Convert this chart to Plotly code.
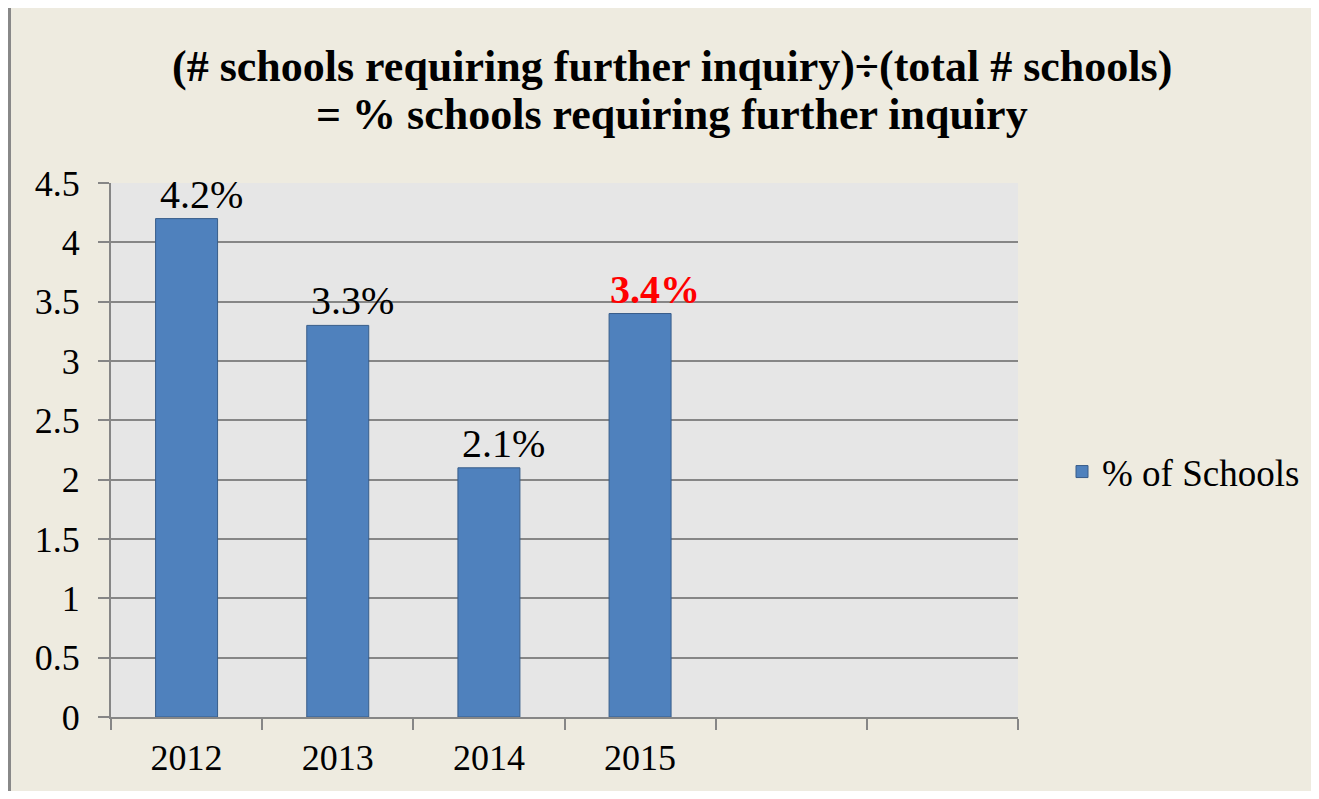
import plotly.graph_objects as go

categories = ["2012", "2013", "2014", "2015", " ", "  "]
values = [4.2, 3.3, 2.1, 3.4, None, None]
label_colors = ["#000000", "#000000", "#000000", "#FF0000"]
label_bold = [False, False, False, True]
y_ticks = [0, 0.5, 1, 1.5, 2, 2.5, 3, 3.5, 4, 4.5]
series_name = "% of Schools"
title_lines = ["(# schools requiring further inquiry)÷(total # schools)",
               "= % schools requiring further inquiry"]

FONT = "Liberation Serif, 'Times New Roman', Tinos, serif"
OFF = 8  # page body margin
W, H = 1319 - OFF, 799 - 2 * OFF
L, R, T, B = 111 - OFF, 1018 - OFF, 183 - OFF, 717 - OFF

fig = go.Figure()
fig.add_trace(go.Bar(
    x=categories, y=values, name=series_name,
    marker=dict(color="#4F81BD", line=dict(color="#385D8A", width=1)),
    showlegend=True, hoverinfo="x+y",
))

annotations = []
# data labels, placed at each bar top through the axes (category index on x)
for i, v in enumerate(values):
    if v is None:
        continue
    t = f"{v}%"
    if label_bold[i]:
        t = f"<b>{t}</b>"
    annotations.append(dict(
        x=i, y=v, xref="x", yref="y", text=t, showarrow=False,
        xanchor="center", yanchor="bottom", xshift=15, yshift=0,
        font=dict(family=FONT, size=40, color=label_colors[i]),
    ))

title_y = [66, 114]
for line, yy in zip(title_lines, title_y):
    annotations.append(dict(
        text=f"<b>{line}</b>", xref="paper", yref="paper",
        x=(672 - OFF - L) / (R - L), xanchor="center",
        y=(B - (yy - OFF)) / (B - T), yanchor="middle",
        showarrow=False, font=dict(family=FONT, size=44, color="#000000"),
    ))

fig.update_layout(
    width=W, height=H,
    margin=dict(l=L, r=W - R, t=T, b=H - B, pad=0),
    paper_bgcolor="#EEEBE0",
    plot_bgcolor="#E6E6E6",
    bargap=0.59,
    font=dict(family=FONT, size=36, color="#000000"),
    annotations=annotations,
    legend=dict(
        x=(1062 - OFF - L) / (R - L), xanchor="left", y=(B - (472 - OFF)) / (B - T), yanchor="middle",
        font=dict(family=FONT, size=37, color="#000000"),
        bgcolor="rgba(0,0,0,0)", itemwidth=30,
    ),
    xaxis=dict(
        type="category", categoryorder="array", categoryarray=categories,
        range=[-0.5, len(categories) - 0.5],
        showline=True, linecolor="#868686", linewidth=2,
        ticks="outside", tickson="boundaries", ticklen=11, tickcolor="#868686", tickwidth=2,
        showgrid=False, tickfont=dict(family=FONT, size=36),
        ticklabelstandoff=8,
    ),
    yaxis=dict(
        range=[0, 4.5], tickvals=y_ticks, ticktext=[f"{v:g}" for v in y_ticks],
        showline=True, linecolor="#868686", linewidth=2,
        ticks="outside", ticklen=11, tickcolor="#868686", tickwidth=2,
        showgrid=True, gridcolor="#868686", gridwidth=2,
        zeroline=False, tickfont=dict(family=FONT, size=36),
        ticklabelstandoff=11,
    ),
    shapes=[
        dict(type="line", xref="paper", yref="paper",
             x0=(9.5 - OFF - L) / (R - L), x1=(9.5 - OFF - L) / (R - L),
             y0=-1.0, y1=(B - (5 - OFF)) / (B - T),
             line=dict(color="#888888", width=3), layer="below"),
        dict(type="line", xref="paper", yref="paper",
             x0=(8 - OFF - L) / (R - L), x1=2.0,
             y0=(B - (6.5 - OFF)) / (B - T), y1=(B - (6.5 - OFF)) / (B - T),
             line=dict(color="#888888", width=3), layer="below"),
    ],
)

fig.write_html("out.html")
